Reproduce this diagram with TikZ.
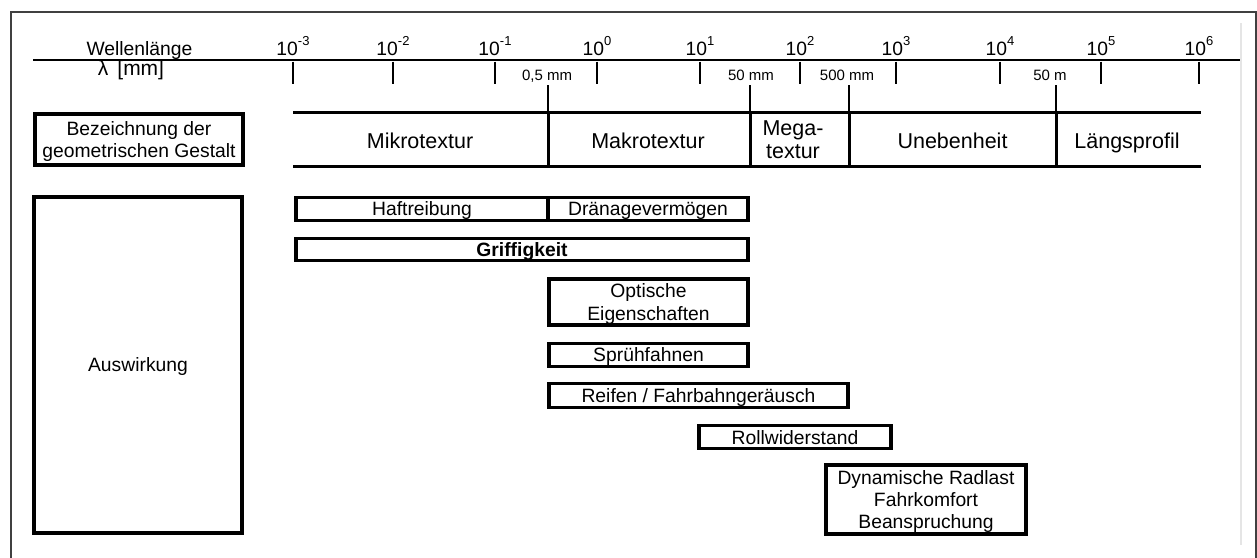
\documentclass[tikz,border=0pt]{standalone}
\usepackage{fontspec}
\setmainfont{Liberation Sans}
\begin{document}
\begin{tikzpicture}[x=1pt,y=-1pt,
  every node/.style={inner sep=0pt, outer sep=0pt, text=black,
    font=\fontsize{19.3}{22.3}\selectfont},
  effbox/.style={draw=black, line width=3.4pt, align=center, text depth=0pt},
  bandlabel/.style={align=center, text depth=0pt,
    font=\fontsize{21.5}{23}\selectfont},
  bandline/.style={line width=3pt, line cap=rect},
  tickline/.style={line width=1.5pt},
  smalllabel/.style={anchor=base, font=\fontsize{15}{15}\selectfont},
  framecol/.style={draw=black!75, line width=1.4pt}]

\clip (0,0) rectangle (1257,557);
\fill[white] (0,0) rectangle (1257,557);

% outer frame and inner margin line
\draw[framecol] (11,12) rectangle (1256,620);
\draw[black!10, line width=2pt] (1241,23) -- (1241,545);

% wavelength axis
\coordinate (axL) at (33,60);
\coordinate (axR) at (1240,60);
\draw[line width=1.6pt] (axL) -- (axR);
\node[anchor=base] (wl)  at (139.5,55) {Wellenlänge};
\node[anchor=base, font=\fontsize{21}{21}\selectfont] (lam) at (131,75) {λ\hspace{9pt}[mm]};

\foreach \x/\e [count=\i] in {293/-3,393/-2,495/-1,597/0,700/1,800/2,896/3,1000/4,1101/5,1199/6}{
  \draw[tickline] (\x,61.5) -- (\x,84);
  \node[anchor=base] (dec\i) at (\x,55)
    {10\raisebox{9.5pt}{\fontsize{13}{13}\selectfont\e}};
}

% boundary marks between texture ranges
\node[smalllabel] (m1) at (547,80) {0,5 mm};
\node[smalllabel] (m2) at (751,80) {50 mm};
\node[smalllabel] (m3) at (847,80) {500 mm};
\node[smalllabel] (m4) at (1050,80) {50 m};
\foreach \x in {548,750,849,1056}{
  \draw[tickline] (\x,85) -- (\x,112);
  \draw[line width=3pt] (\x,112) -- (\x,166);
}

% band of geometric shape names
\draw[bandline] (294,112) -- (1199,112);
\draw[bandline] (294,166) -- (1199,166);
\node[bandlabel] (mikro) at (420,140.5) {Mikrotextur};
\node[bandlabel] (makro) at (648,140.5) {Makrotextur};
\node[bandlabel] (mega)  at (793,139.5) {Mega-\\textur};
\node[bandlabel] (uneb)  at (952.5,140.5) {Unebenheit};
\node[bandlabel] (laeng) at (1127,140.5) {Längsprofil};

% left column headings
\node[effbox, minimum width=208pt, minimum height=51pt] (bez) at (139,139.5)
  {Bezeichnung der\\geometrischen Gestalt};
\node[effbox, minimum width=208pt, minimum height=336pt] (ausw) at (138,365) {Auswirkung};

% effects
\node[effbox, minimum width=252pt, minimum height=23pt] (haft)  at (422,209) {Haftreibung};
\node[effbox, minimum width=200pt, minimum height=23pt] (drain) at (648,209) {Dränagevermögen};
\node[effbox, minimum width=452pt, minimum height=22pt] (grif)  at (522,249.5) {\bfseries Griffigkeit};
\node[effbox, minimum width=199pt, minimum height=46pt] (opt)   at (648.5,302) {Optische\\Eigenschaften};
\node[effbox, minimum width=199pt, minimum height=23pt] (spr)   at (648.5,355) {Sprühfahnen};
\node[effbox, minimum width=299pt, minimum height=24pt] (reif)  at (698.5,395.5) {Reifen / Fahrbahngeräusch};
\node[effbox, minimum width=192pt, minimum height=23pt] (roll)  at (795,437) {Rollwiderstand};
\node[effbox, minimum width=200pt, minimum height=69pt] (dyn)   at (926,499.5)
  {Dynamische Radlast\\Fahrkomfort\\Beanspruchung};
\end{tikzpicture}
\end{document}
